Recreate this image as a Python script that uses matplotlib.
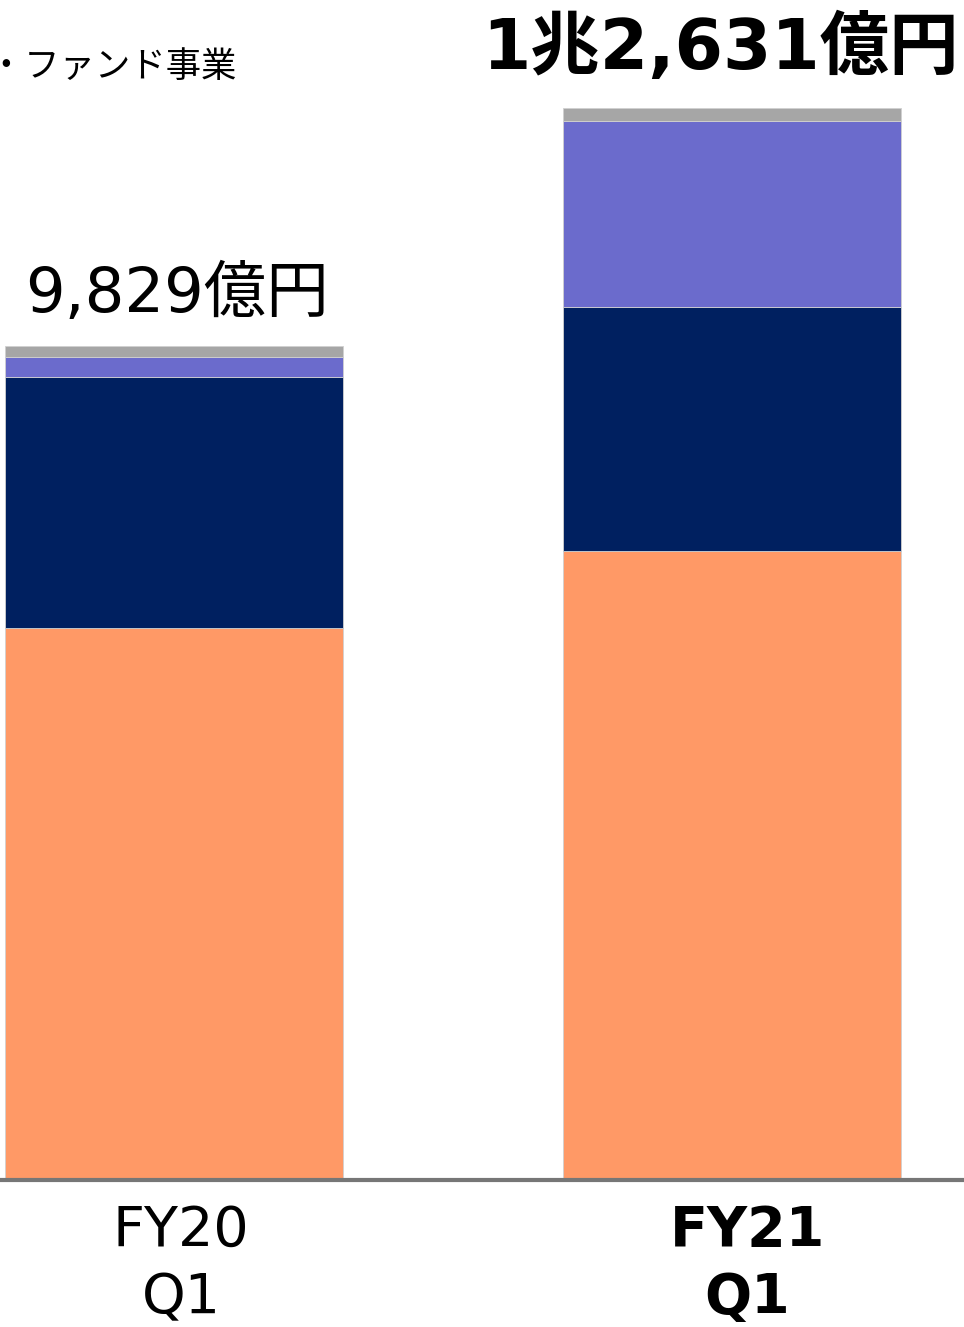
import matplotlib
matplotlib.use("Agg")
import matplotlib.pyplot as plt
import numpy as np

plt.rcParams['font.family'] = ['DejaVu Sans', 'Noto Sans CJK JP']

categories = ["FY20\nQ1", "FY21\nQ1"]
seg_orange = [6506, 7410]
seg_navy = [2958, 2876]
seg_purple = [235, 2192]
seg_gray = [130, 153]
totals = [9829, 12631]
total_labels = ["9,829億円", "1兆2,631億円"]
legend_text = "ラテンアメリカ・ファンド事業"

colors = ["#FF9966", "#002060", "#6B6BCC", "#A6A6A6"]

W, H = 964, 1327
fig = plt.figure(figsize=(W / 100, H / 100), dpi=100)
base_px = 1180
ax = fig.add_axes([0, (H - base_px) / H, 1, base_px / H])

x = np.arange(len(categories))
scale = 1072 / 12631.0
ax.set_ylim(0, base_px / scale)
ax.set_xlim(-174 / 558, (W - 174) / 558)
width = 338 / 558

bottom = np.zeros(len(categories))
for vals, c in zip([seg_orange, seg_navy, seg_purple, seg_gray], colors):
    ax.bar(x, vals, width, bottom=bottom, color=c, edgecolor="#D0D0D0", linewidth=0.6, zorder=2)
    bottom += np.array(vals)

for sp in ["top", "right", "left"]:
    ax.spines[sp].set_visible(False)
ax.spines["bottom"].set_color("#767676")
ax.spines["bottom"].set_linewidth(3)
ax.spines["bottom"].set_zorder(3)
ax.set_yticks([])
ax.set_xticks(x)
ax.set_xticklabels([])
ax.tick_params(axis="x", length=0)

label_dx = [5, 11]
for i, lab in enumerate(categories):
    ax.annotate(lab, xy=(x[i], 0), xytext=(label_dx[i], -17), textcoords="offset points",
                ha="center", va="top", fontsize=40, linespacing=1.32,
                fontweight="bold" if i == 1 else "normal", annotation_clip=False)

ax.annotate(total_labels[0], xy=(x[0], totals[0]), xytext=(2, 15), textcoords="offset points",
            ha="center", va="bottom", fontsize=45)
ax.annotate(total_labels[1], xy=(x[1], totals[1]), xytext=(-8, 18), textcoords="offset points",
            ha="center", va="bottom", fontsize=50, fontweight="bold", annotation_clip=False)

fig.text(236 / W, 1 - 67 / H, legend_text, ha="right", va="center", fontsize=25.5,
         family=['Noto Sans CJK JP', 'DejaVu Sans'])

fig.savefig("out.png", dpi=100)
